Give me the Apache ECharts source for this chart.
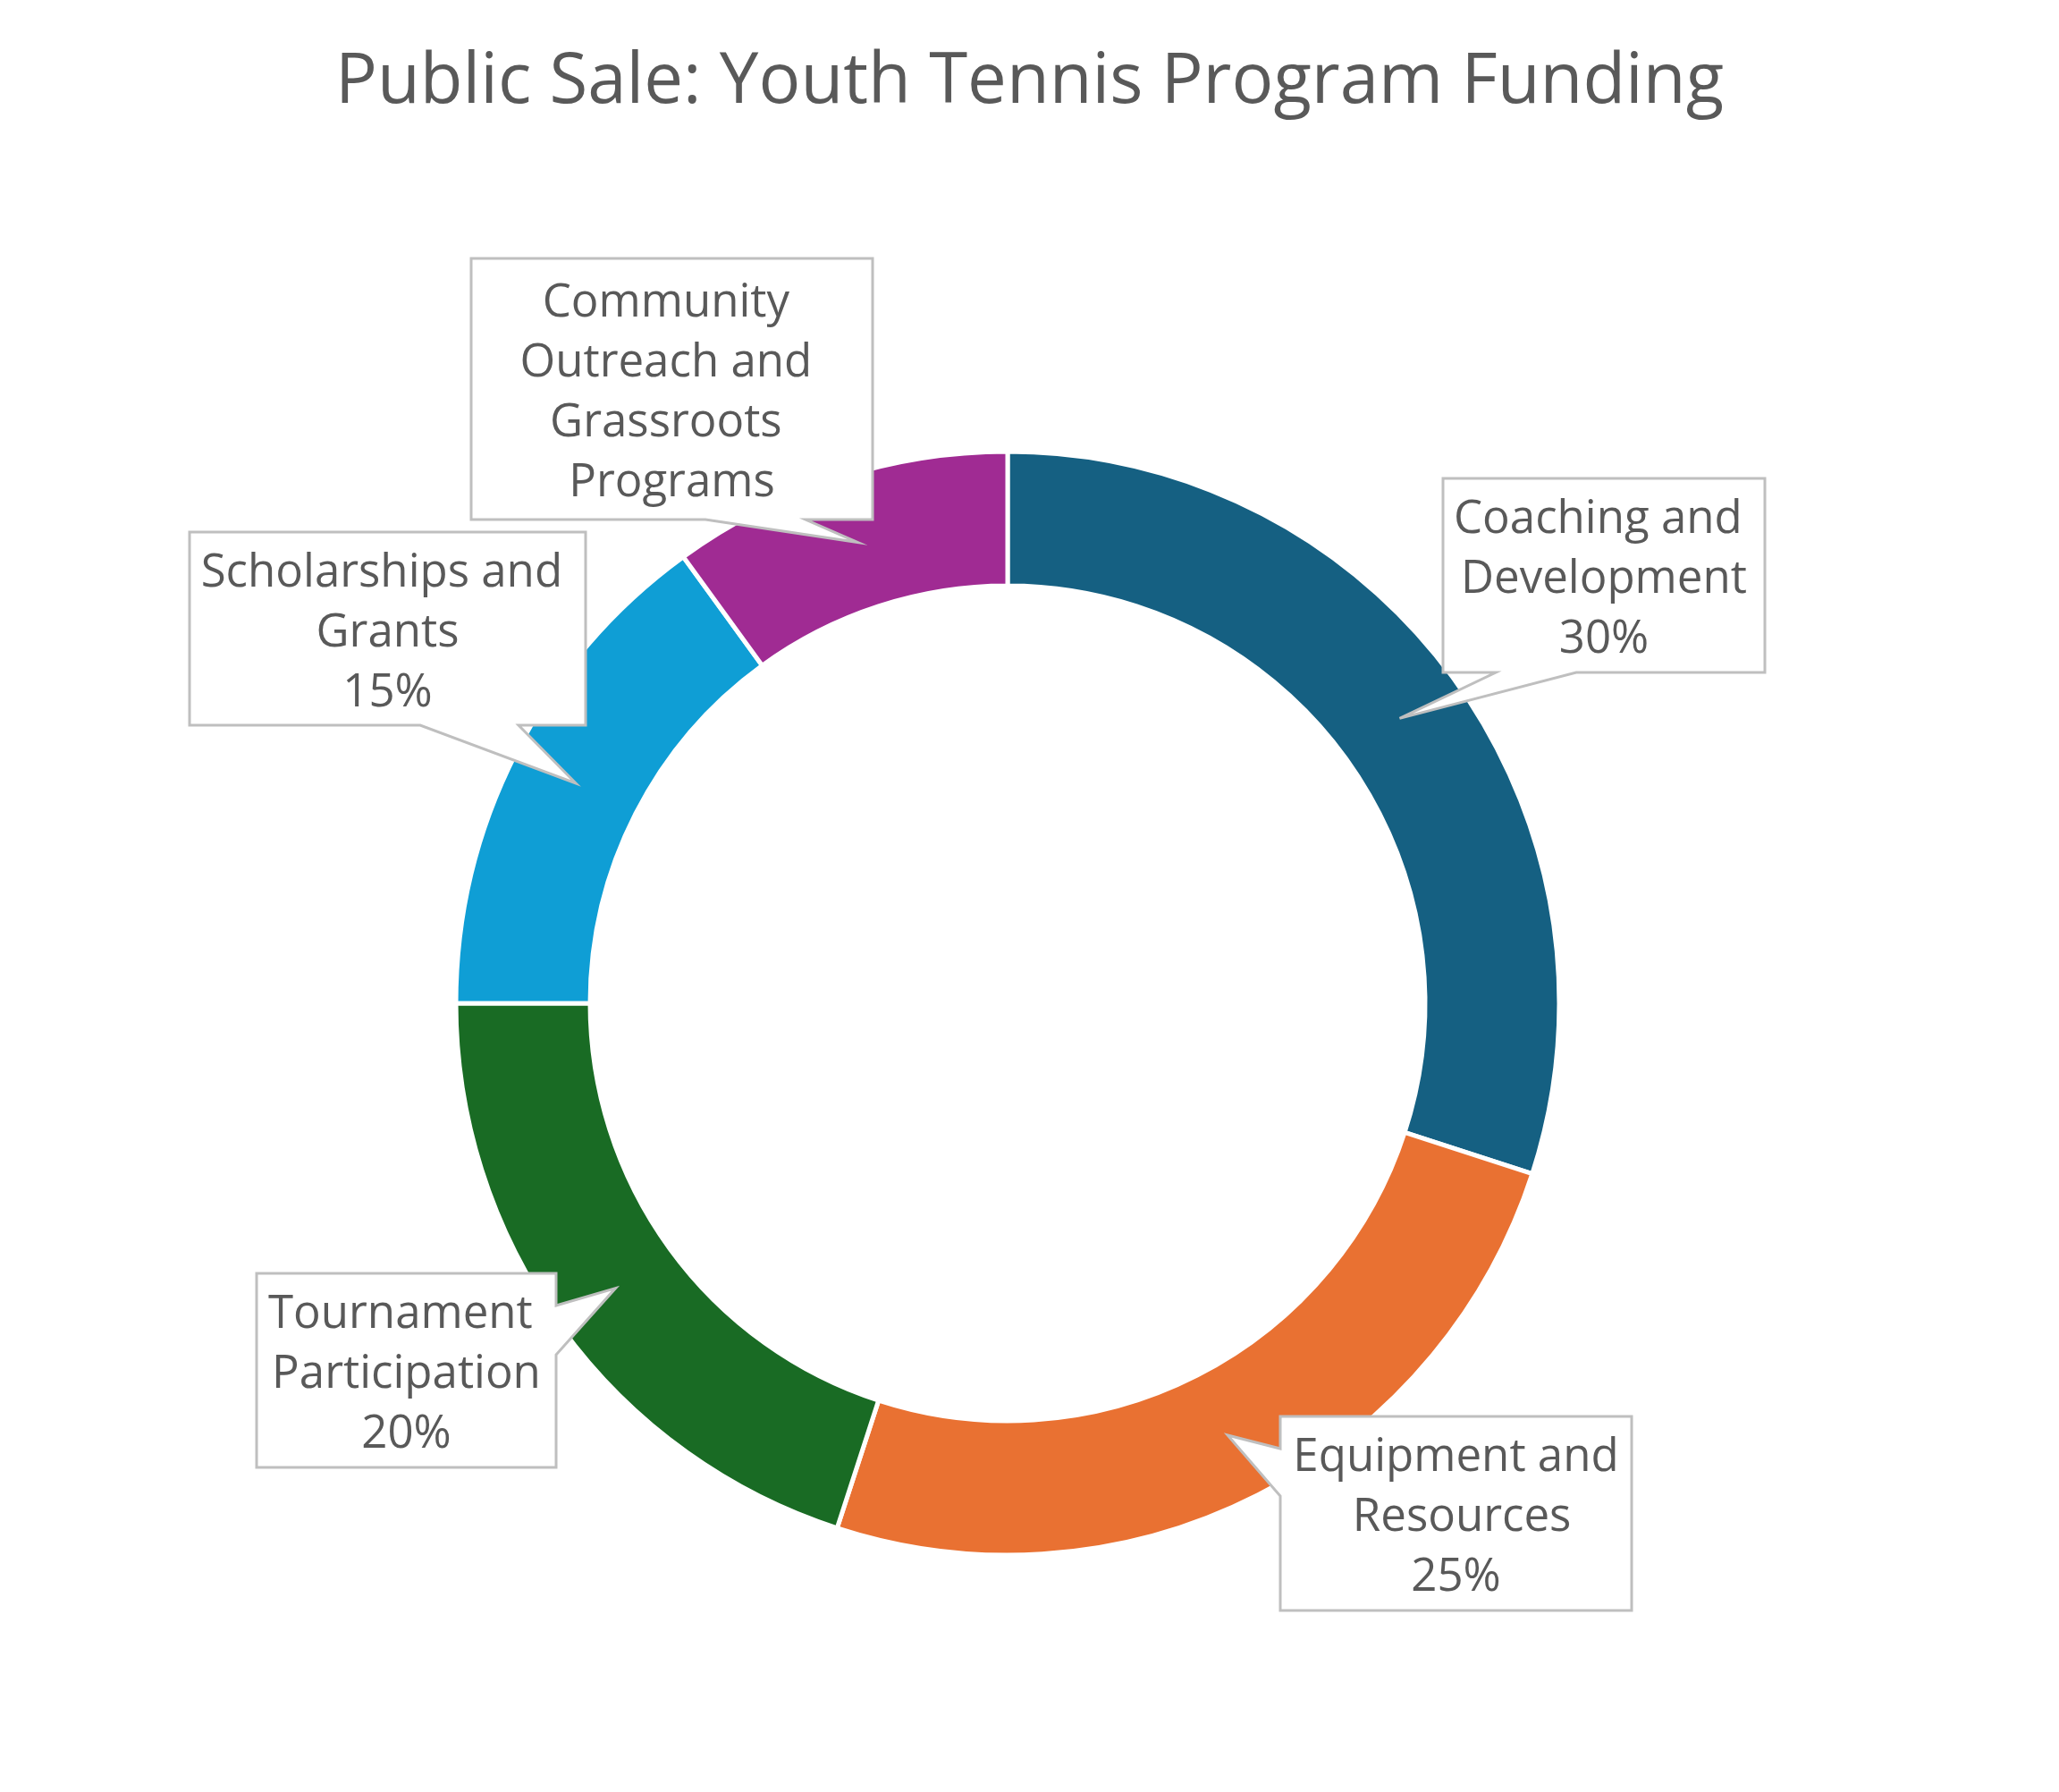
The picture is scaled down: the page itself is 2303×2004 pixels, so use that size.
<!DOCTYPE html>
<html>
<head>
<meta charset="utf-8">
<script src="https://cdn.jsdelivr.net/npm/echarts@6/dist/echarts.min.js"></script>
<style>
  html, body { margin: 0; padding: 0; background: #fff; }
  #main { width: 2303px; height: 2004px; }
</style>
</head>
<body>
<div id="main"></div>
<script>
// data
var categories = ['Coaching and Development', 'Equipment and Resources', 'Tournament Participation', 'Scholarships and Grants', 'Community Outreach and Grassroots Programs'];
var values = [30, 25, 20, 15, 10];
var showPercent = [true, true, true, true, false];
var colors = ['#156082', '#E97132', '#196B24', '#0F9ED5', '#A02B93'];

// ring geometry (px)
var CX = 1127, CY = 1122, R_IN = 467, R_OUT = 617;

// callout boxes: [x0, y0, x1, y1], side the pointer leaves from, pointer base
var callouts = [
  { box: [1614, 535, 1974, 752], edge: 'bottom', base: [1673, 1763] },
  { box: [1432, 1584, 1825, 1801], edge: 'left', base: [1620, 1673] },
  { box: [287, 1424, 622, 1641], edge: 'right', base: [1460, 1515] },
  { box: [212, 595, 655, 811], edge: 'bottom', base: [470, 580] },
  { box: [527, 289, 976, 581], edge: 'bottom', base: [789, 901] }
];

var chart = echarts.init(document.getElementById('main'));

// pointer tip = middle of the ring at the slice's middle angle
var total = values.reduce(function (a, b) { return a + b; }, 0);
var acc = 0;
var tips = values.map(function (v) {
  var mid = (acc + v / 2) / total * Math.PI * 2;
  acc += v;
  var r = (R_IN + R_OUT) / 2;
  return [CX + r * Math.sin(mid), CY - r * Math.cos(mid)];
});

function calloutPoints(c, tip) {
  var x0 = c.box[0], y0 = c.box[1], x1 = c.box[2], y1 = c.box[3];
  var b = c.base;
  if (c.edge === 'bottom') {
    return [[x0, y0], [x1, y0], [x1, y1], [b[1], y1], tip, [b[0], y1], [x0, y1]];
  } else if (c.edge === 'right') {
    return [[x0, y0], [x1, y0], [x1, b[0]], tip, [x1, b[1]], [x1, y1], [x0, y1]];
  } else {
    return [[x0, y0], [x1, y0], [x1, y1], [x0, y1], [x0, b[1]], tip, [x0, b[0]]];
  }
}

var graphics = callouts.map(function (c, i) {
  return {
    type: 'polygon',
    z: 5,
    silent: true,
    shape: { points: calloutPoints(c, tips[i]) },
    style: { fill: '#fff', stroke: '#bfbfbf', lineWidth: 3, lineJoin: 'miter' }
  };
});

var pieData = categories.map(function (name, i) {
  return { name: name, value: values[i], itemStyle: { color: colors[i] } };
});

var labelData = categories.map(function (name, i) {
  var c = callouts[i];
  return {
    name: name,
    value: values[i],
    label: { width: c.box[2] - c.box[0] - 16 }
  };
});

var option = {
  backgroundColor: '#fff',
  animation: false,
  title: {
    text: 'Public Sale: Youth Tennis Program Funding',
    left: 'center',
    top: 49,
    textStyle: {
      fontFamily: 'Open Sans',
      fontSize: 78,
      fontWeight: 'normal',
      color: '#595959'
    }
  },
  graphic: graphics,
  series: [
    {
      type: 'pie',
      z: 2,
      center: [CX, CY],
      radius: [R_IN, R_OUT],
      startAngle: 90,
      clockwise: true,
      silent: true,
      label: { show: false },
      labelLine: { show: false },
      itemStyle: { borderColor: '#fff', borderWidth: 5 },
      data: pieData
    },
    {
      type: 'pie',
      z: 10,
      center: [CX, CY],
      radius: [R_IN, R_OUT],
      startAngle: 90,
      clockwise: true,
      silent: true,
      avoidLabelOverlap: false,
      itemStyle: { color: 'transparent', borderWidth: 0 },
      labelLine: { show: false },
      label: {
        show: true,
        position: 'outside',
        fontFamily: 'Open Sans',
        fontSize: 51,
        lineHeight: 67,
        color: '#595959',
        align: 'center',
        overflow: 'break',
        formatter: function (p) {
          return showPercent[p.dataIndex] ? p.name + '\n' + p.percent + '%' : p.name;
        }
      },
      labelLayout: function (p) {
        var b = callouts[p.dataIndex].box;
        return {
          x: (b[0] + b[2]) / 2,
          y: (b[1] + b[3]) / 2 + 5,
          align: 'center',
          verticalAlign: 'middle'
        };
      },
      data: labelData
    }
  ]
};

chart.setOption(option);
</script>
</body>
</html>
